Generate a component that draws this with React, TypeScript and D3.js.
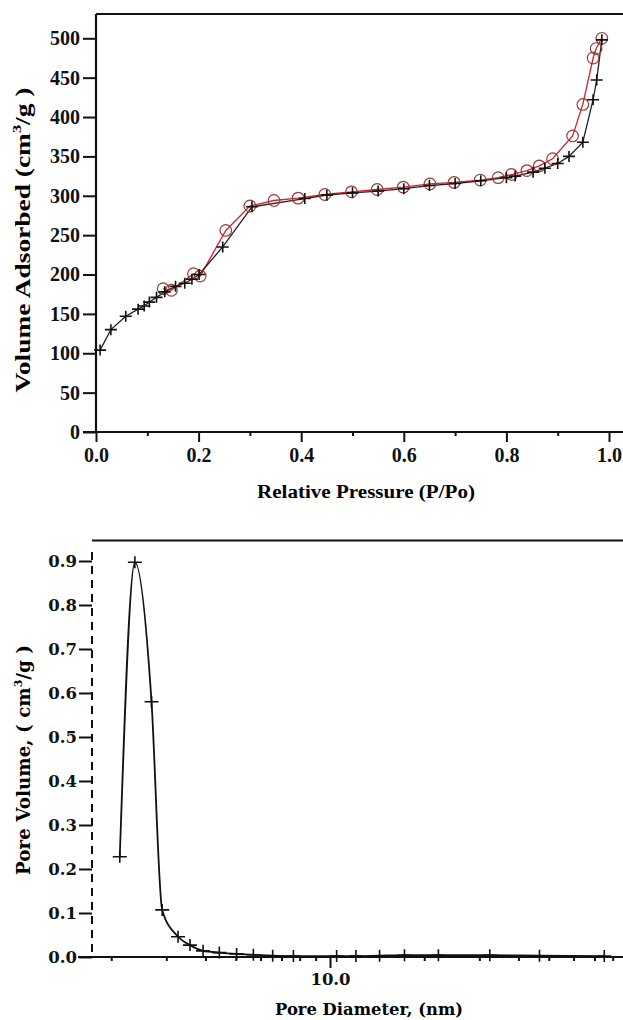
import { useEffect, useRef } from "react";
import * as d3 from "d3";

// isotherm: adsorption branch (+ markers, black line)
const adsP = [0.008, 0.029, 0.058, 0.082, 0.094, 0.104, 0.118, 0.134, 0.155, 0.173, 0.187, 0.201, 0.247, 0.304, 0.407, 0.45, 0.5, 0.55, 0.6, 0.65, 0.7, 0.75, 0.8, 0.817, 0.852, 0.875, 0.9, 0.922, 0.949, 0.969, 0.976, 0.986];
const adsV = [104, 130, 147, 156, 160, 165, 171, 178, 185, 189, 194, 200, 235, 286, 296.5, 300.8, 303.7, 306, 309, 313, 315.6, 319, 323, 325, 330, 335, 341, 350, 368, 422, 447, 498];

// desorption branch (circles, red line)
const desP = [0.131, 0.147, 0.19, 0.203, 0.253, 0.3, 0.347, 0.394, 0.446, 0.498, 0.548, 0.599, 0.651, 0.698, 0.749, 0.784, 0.81, 0.84, 0.864, 0.89, 0.929, 0.949, 0.969, 0.975, 0.986];
const desV = [182, 180, 201, 198, 256, 287, 294, 297, 301.6, 305, 308, 311, 315, 317, 320, 323, 327, 332, 338, 347, 376, 416, 475, 487, 500];

const pressureTicks = [0, 0.2, 0.4, 0.6, 0.8, 1.0];
const pressureMinor = [0.1, 0.3, 0.5, 0.7, 0.9];
const volumeTicks = [0, 50, 100, 150, 200, 250, 300, 350, 400, 450, 500];

// pore size distribution
const poreD = [2.13, 2.38, 2.69, 2.91, 3.27, 3.57, 3.93, 4.43, 5.03, 5.69, 6.56, 7.64, 10.5, 12.1, 14.4, 17.3, 22.2, 32.4, 46.7, 75.2];
const poreV = [0.228, 0.897, 0.58, 0.107, 0.046, 0.027, 0.014, 0.01, 0.007, 0.005, 0.003, 0.002, 0.002, 0.002, 0.003, 0.004, 0.004, 0.004, 0.003, 0.002];

const poreVTicks = [0, 0.1, 0.2, 0.3, 0.4, 0.5, 0.6, 0.7, 0.8, 0.9];
const diamMajor = [10];
const diamMinor = [2, 3, 4, 5, 6, 7, 8, 9, 20, 30, 40, 50, 60, 70, 80];

const FONT = "'Liberation Serif', 'Times New Roman', serif";
const SLAB = "'DejaVu Serif', serif";

export default function App() {
  const svgRef = useRef<SVGSVGElement>(null);

  useEffect(() => {
    const svg = d3.select(svgRef.current);
    svg.selectAll("*").remove();

    const cross = (g: any, data: number[][], x: any, y: any, w: number, h: number) => {
      g.selectAll(null)
        .data(data)
        .enter()
        .append("path")
        .attr("d", (d: number[]) => {
          const cx = x(d[0]);
          const cy = y(d[1]);
          return `M${cx - w / 2},${cy}H${cx + w / 2}M${cx},${cy - h / 2}V${cy + h / 2}`;
        })
        .attr("stroke", "#111")
        .attr("stroke-width", 1.6)
        .attr("fill", "none");
    };

    // stretch a label to the width it has in the picture
    const label = (g: any, parts: string[], cx: number, cy: number, len: number, size: number, family: string, rotate: boolean) => {
      const t = g.append("text").attr("font-size", size).attr("font-family", family).attr("text-anchor", "middle");
      t.append("tspan").text(parts[0]);
      if (parts.length > 1) {
        t.append("tspan").attr("font-size", size * 0.6).attr("dy", -size * 0.42).text(parts[1]);
        t.append("tspan").attr("dy", size * 0.42).text(parts[2]);
      }
      const natural = (t.node() as SVGTextElement).getComputedTextLength() || len;
      const sx = len / natural;
      t.attr("transform", `translate(${cx},${cy})${rotate ? " rotate(-90)" : ""} scale(${sx},1)`);
    };

    // ---------- top: isotherm ----------
    const xT = d3.scaleLinear().domain([0, 1]).range([96, 609]);
    const yT = d3.scaleLinear().domain([0, 500]).range([432, 38.3]);
    const top = svg.append("g");

    const ads = adsP.map((p, i) => [p, adsV[i]]);
    const des = desP.map((p, i) => [p, desV[i]]);
    const lineT = d3
      .line<number[]>()
      .x((d) => xT(d[0]))
      .y((d) => yT(d[1]));

    top.append("path").datum(des).attr("d", lineT).attr("fill", "none").attr("stroke", "#d3202e").attr("stroke-width", 1.3);
    top.append("path").datum(ads).attr("d", lineT).attr("fill", "none").attr("stroke", "#222").attr("stroke-width", 1.3);

    top
      .selectAll(".circ")
      .data(des)
      .enter()
      .append("circle")
      .attr("cx", (d) => xT(d[0]))
      .attr("cy", (d) => yT(d[1]))
      .attr("r", 5.8)
      .attr("fill", "none")
      .attr("stroke", "#9a3a3a")
      .attr("stroke-width", 1.2);
    cross(top, ads, xT, yT, 12, 11);

    // frame lines
    top.append("line").attr("x1", 96).attr("x2", 623).attr("y1", 14).attr("y2", 14).attr("stroke", "#111").attr("stroke-width", 2.2);
    top.append("line").attr("x1", 96).attr("x2", 96).attr("y1", 14).attr("y2", 432).attr("stroke", "#111").attr("stroke-width", 2.2);
    top.append("line").attr("x1", 83).attr("x2", 623).attr("y1", 432).attr("y2", 432).attr("stroke", "#111").attr("stroke-width", 2.2);

    const xAxisT = top
      .append("g")
      .attr("transform", "translate(0,432)")
      .call(d3.axisBottom(xT).tickValues(pressureTicks).tickSize(10).tickPadding(6).tickFormat(d3.format(".1f")));
    top
      .append("g")
      .attr("transform", "translate(0,432)")
      .call(d3.axisBottom(xT).tickValues(pressureMinor).tickSize(4).tickFormat(() => ""));
    const yAxisT = top
      .append("g")
      .attr("transform", "translate(96,0)")
      .call(d3.axisLeft(yT).tickValues(volumeTicks).tickSize(13).tickPadding(3));
    [xAxisT, yAxisT].forEach((a) => a.selectAll("text").attr("font-size", 20).attr("font-family", FONT));

    label(top, ["Relative Pressure (P/Po)"], 366, 498, 218, 19, FONT, false);
    label(top, ["Volume Adsorbed (cm", "3", "/g )"], 30, 240, 305, 21, FONT, true);

    // ---------- bottom: pore size distribution ----------
    const xB = d3.scaleLog().domain([10, 100]).range([330, 643]);
    const yB = d3.scaleLinear().domain([0, 0.9]).range([957, 561]);
    const bot = svg.append("g");

    const psd = poreD.map((d, i) => [d, poreV[i]]);
    bot
      .append("path")
      .datum(psd)
      .attr(
        "d",
        d3
          .line<number[]>()
          .x((d) => xB(d[0]))
          .y((d) => yB(d[1]))
          .curve(d3.curveMonotoneX)
      )
      .attr("fill", "none")
      .attr("stroke", "#111")
      .attr("stroke-width", 1.8);
    cross(bot, psd, xB, yB, 14, 12);

    bot.append("line").attr("x1", 92).attr("x2", 623).attr("y1", 540.5).attr("y2", 540.5).attr("stroke", "#111").attr("stroke-width", 2);
    bot
      .append("line")
      .attr("x1", 92)
      .attr("x2", 92)
      .attr("y1", 552)
      .attr("y2", 957)
      .attr("stroke", "#111")
      .attr("stroke-width", 2)
      .attr("stroke-dasharray", "8,6");
    bot.append("line").attr("x1", 78).attr("x2", 623).attr("y1", 957).attr("y2", 957).attr("stroke", "#111").attr("stroke-width", 2.2);

    const xAxisB = bot
      .append("g")
      .attr("transform", "translate(0,957)")
      .call(d3.axisBottom(xB).tickValues(diamMajor).tickSize(11).tickPadding(5).tickFormat(d3.format(".1f")));
    bot
      .append("g")
      .attr("transform", "translate(0,957)")
      .call(d3.axisBottom(xB).tickValues(diamMinor).tickSize(4).tickFormat(() => ""));
    const yAxisB = bot
      .append("g")
      .attr("transform", "translate(92,0)")
      .call(d3.axisLeft(yB).tickValues(poreVTicks).tickSize(13).tickPadding(2).tickFormat(d3.format(".1f")));
    [xAxisB, yAxisB].forEach((a) => a.selectAll("text").attr("font-size", 16.5).attr("font-family", SLAB));

    label(bot, ["Pore Diameter, (nm)"], 369, 1015, 188, 17, SLAB, false);
    label(bot, ["Pore Volume, ( cm", "3", "/g )"], 30, 760, 230, 18, SLAB, true);

    // common axis styling
    svg.selectAll(".domain").remove();
    svg.selectAll(".tick line").attr("stroke", "#111").attr("stroke-width", 2);
    svg.selectAll(".tick text").attr("fill", "#111").attr("font-weight", "bold");
  }, []);

  return (
    <svg
      ref={svgRef}
      width={623}
      height={1020}
      style={{ position: "absolute", left: 0, top: 0, background: "#fff" }}
      fontFamily={FONT}
      fontWeight="bold"
    />
  );
}
